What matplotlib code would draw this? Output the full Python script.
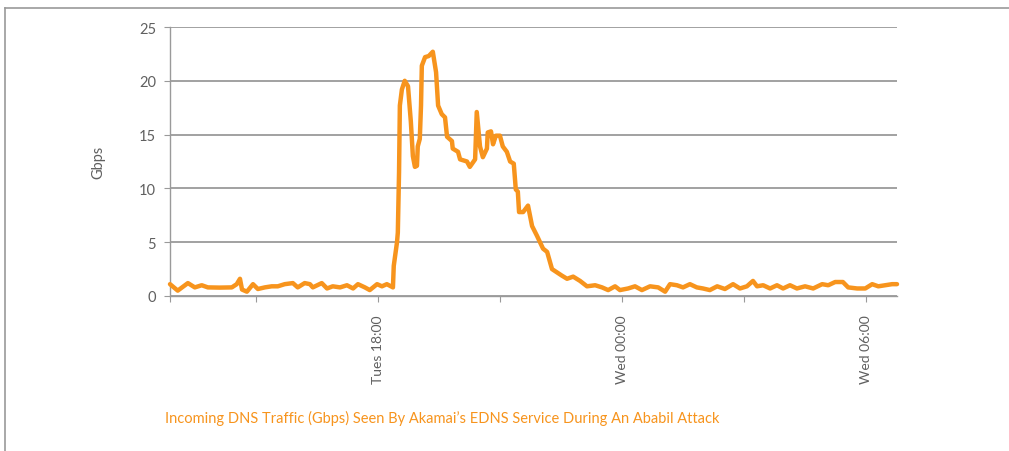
import matplotlib
matplotlib.use("Agg")
import matplotlib.pyplot as plt
from matplotlib.lines import Line2D

plt.rcParams['font.family'] = ['Lato', 'DejaVu Sans']

# hours since Tuesday 00:00
hours = [12.89, 13.08, 13.33, 13.50, 13.67, 13.82, 14.11, 14.41, 14.53, 14.61, 14.66, 14.78,
         14.93, 15.05, 15.22, 15.39, 15.54, 15.71, 15.91, 16.03, 16.20, 16.33, 16.40, 16.62,
         16.75, 16.89, 17.07, 17.24, 17.39, 17.51, 17.68, 17.80, 17.98, 18.10, 18.22, 18.37,
         18.39, 18.42, 18.47, 18.49, 18.52, 18.54, 18.59, 18.66, 18.74, 18.81, 18.86, 18.91,
         18.96, 18.98, 19.03, 19.06, 19.08, 19.16, 19.25, 19.35, 19.43, 19.48, 19.57, 19.65,
         19.70, 19.82, 19.84, 19.97, 20.02, 20.19, 20.26, 20.39, 20.43, 20.51, 20.58, 20.68,
         20.70, 20.78, 20.83, 20.90, 21.00, 21.07, 21.17, 21.25, 21.34, 21.39, 21.44, 21.47,
         21.57, 21.69, 21.79, 21.91, 22.06, 22.16, 22.28, 22.40, 22.52, 22.65, 22.80, 22.97,
         23.14, 23.34, 23.51, 23.66, 23.83, 23.95, 24.15, 24.32, 24.49, 24.69, 24.89, 25.06,
         25.18, 25.35, 25.50, 25.67, 25.84, 25.99, 26.16, 26.34, 26.53, 26.73, 26.90, 27.07,
         27.22, 27.32, 27.47, 27.64, 27.81, 27.96, 28.13, 28.30, 28.50, 28.70, 28.92, 29.07,
         29.24, 29.43, 29.56, 29.78, 29.98, 30.15, 30.30, 30.47, 30.64, 30.76]
gbps = [1.1, 0.5, 1.2, 0.8, 1.0, 0.8, 0.78, 0.8, 1.1, 1.6, 0.6, 0.4,
        1.1, 0.65, 0.8, 0.9, 0.9, 1.1, 1.2, 0.8, 1.2, 1.1, 0.8, 1.2,
        0.7, 0.9, 0.8, 1.0, 0.7, 1.1, 0.8, 0.55, 1.1, 0.9, 1.1, 0.8,
        2.8, 3.6, 5.0, 5.9, 11.5, 17.7, 19.2, 20.0, 19.5, 16.2, 13.0, 12.0,
        12.1, 13.9, 14.6, 17.7, 21.4, 22.2, 22.3, 22.7, 20.8, 17.7, 16.9, 16.6,
        14.8, 14.4, 13.7, 13.4, 12.7, 12.5, 12.0, 12.7, 17.1, 13.9, 12.9, 13.7,
        15.2, 15.3, 14.1, 14.9, 14.9, 13.9, 13.4, 12.5, 12.3, 9.9, 9.7, 7.8,
        7.8, 8.4, 6.5, 5.6, 4.4, 4.1, 2.5, 2.2, 1.9, 1.6, 1.8, 1.4,
        0.9, 1.0, 0.8, 0.55, 0.9, 0.55, 0.7, 0.9, 0.55, 0.9, 0.8, 0.4,
        1.1, 1.0, 0.8, 1.1, 0.8, 0.7, 0.55, 0.9, 0.65, 1.1, 0.7, 0.9,
        1.4, 0.9, 1.0, 0.7, 1.0, 0.7, 1.0, 0.7, 0.9, 0.7, 1.1, 1.0,
        1.3, 1.3, 0.8, 0.7, 0.7, 1.1, 0.9, 1.0, 1.1, 1.1]

tick_hours = [12.89, 15, 18, 21, 24, 27, 30]
tick_labels = ["", "", "Tues 18:00", "", "Wed 00:00", "", "Wed 06:00"]
y_ticks = [0, 5, 10, 15, 20, 25]

orange = "#F7941D"
grey = "#9a9a9a"
txt = "#606060"

fig = plt.figure(figsize=(10.09, 4.52), dpi=100)
ax = fig.add_axes([170/1009, 1 - 297/452, (897-170)/1009, (297-28)/452])

ax.plot(hours, gbps, color=orange, lw=3.2, solid_joinstyle="round", solid_capstyle="round",
        clip_on=False, zorder=3)

ax.set_xlim(12.89, 30.76)
ax.set_ylim(0, 25)
ax.set_yticks(y_ticks)
ax.set_xticks(tick_hours)
ax.set_xticklabels(tick_labels, rotation=90, fontsize=10, color=txt)
ax.yaxis.grid(True, color=grey, lw=1.3)
ax.set_axisbelow(True)

for s in ["top", "right"]:
    ax.spines[s].set_visible(False)
for s in ["left", "bottom"]:
    ax.spines[s].set_color(grey)
    ax.spines[s].set_linewidth(1.0)
ax.tick_params(axis="y", colors=grey, labelcolor=txt, labelsize=10.5, length=4, pad=6)
ax.tick_params(axis="x", colors=grey, labelcolor=txt, length=4, pad=9)
ax.set_ylabel("Gbps", fontsize=10.5, color=txt, labelpad=24)

fig.text(165/1009, 1 - 418/452,
         "Incoming DNS Traffic (Gbps) Seen By Akamai\u2019s EDNS Service During An Ababil Attack",
         color=orange, fontsize=10.5, va="center", ha="left")

# page frame
fig.add_artist(Line2D([5/1009, 1], [1 - 9/452, 1 - 9/452], color=grey, lw=1.2))
fig.add_artist(Line2D([5/1009, 5/1009], [0, 1 - 9/452], color=grey, lw=1.2))

fig.savefig("out.png", dpi=100)
